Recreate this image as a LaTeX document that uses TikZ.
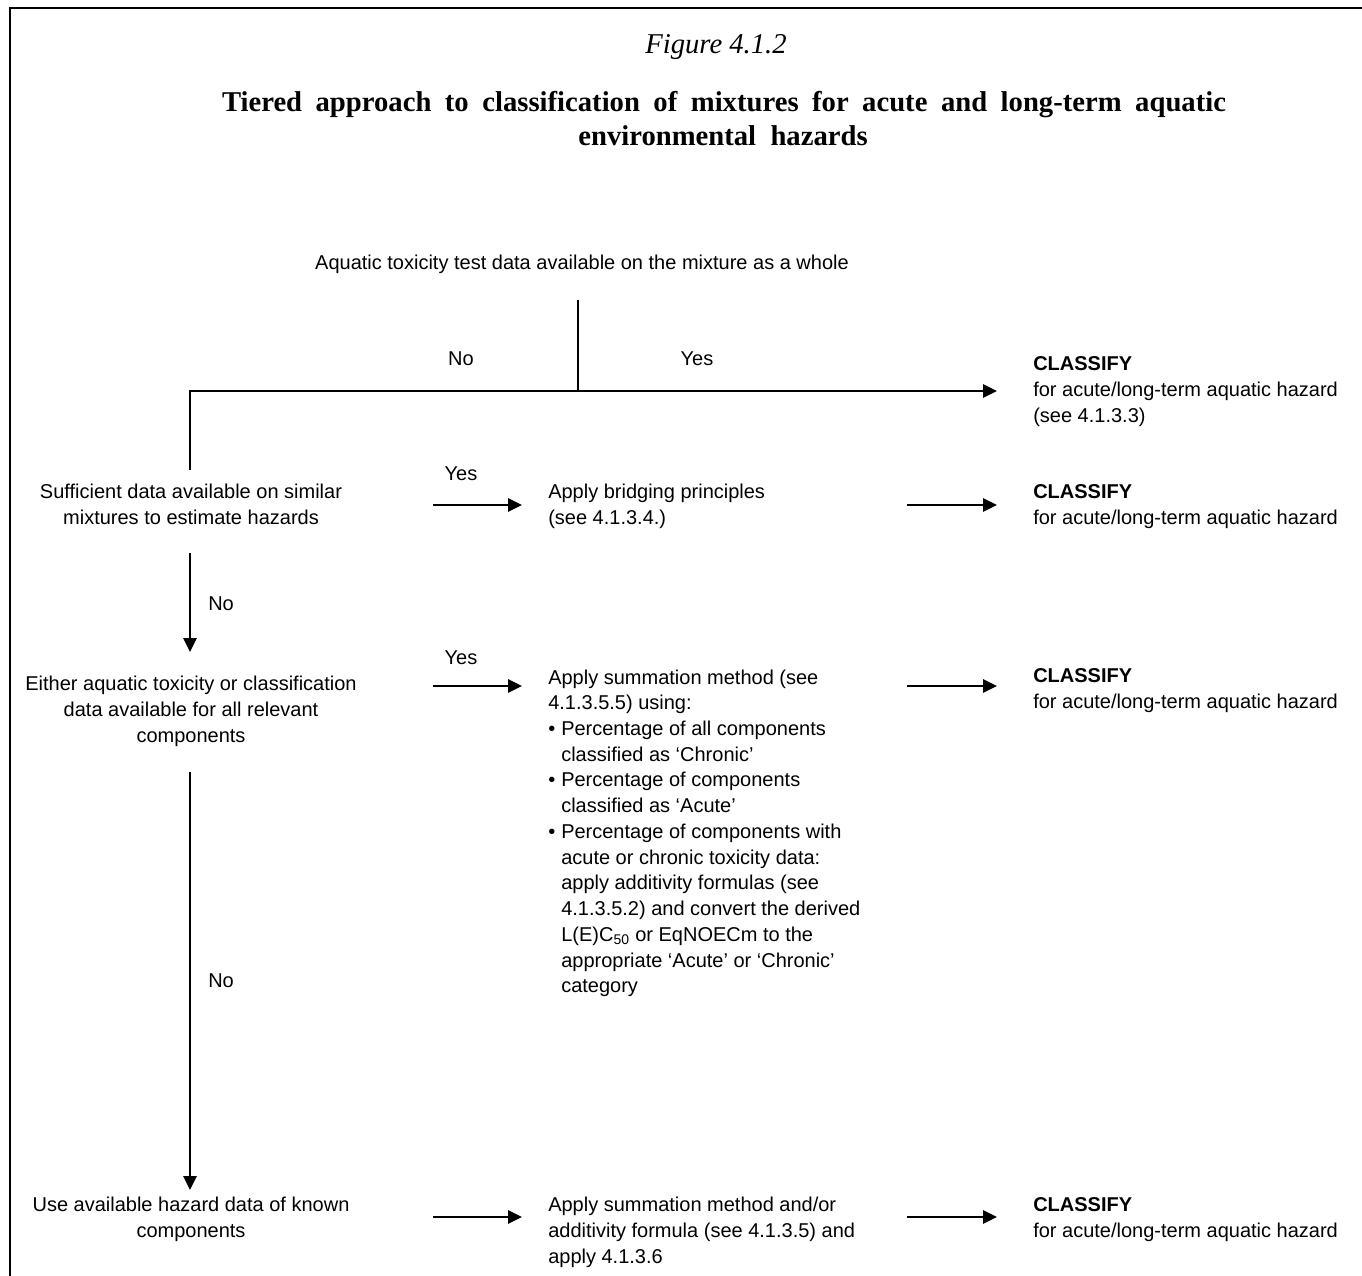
\documentclass[tikz,border=0pt]{standalone}
\usepackage{fontspec}
\setmainfont{Liberation Serif}
\setsansfont{Liberation Sans}
\usetikzlibrary{arrows.meta}
\begin{document}
\begin{tikzpicture}[x=0.75pt,y=-0.75pt,
  txt/.style={font=\sffamily\fontsize{15}{19.3}\selectfont, inner sep=0pt},
  ctxt/.style={txt, align=center, anchor=base},
  ltxt/.style={txt, align=left, anchor=base west},
  ttl/.style={font=\fontsize{21.5}{26}\selectfont, inner sep=0pt, anchor=base},
  ln/.style={line width=1.3pt},
  arr/.style={line width=1.3pt, -{Triangle[length=10.5pt,width=10pt]}}
]
\useasboundingbox (0,0) rectangle (1362,1276);
\fill[white] (0,0) rectangle (1362,1276);
% frame
\coordinate (fbl) at (10,1276);
\coordinate (ftl) at (10,8);
\coordinate (ftr) at (1362,8);
\draw[line width=1.5pt] (fbl) -- (ftl) -- (ftr);

% titles
\node[ttl] (fig) at (716,54) {\itshape Figure 4.1.2};
\node[ttl] (t1) at (724,112) {\makebox[753pt][s]{\bfseries Tiered approach to classification of mixtures for acute and long-term aquatic}};
\node[ttl] (t2) at (723,146) {\bfseries environmental\ \ hazards};

% columns and rows
\coordinate (cA) at (433,0);
\coordinate (cB) at (522,0);
\coordinate (cC) at (907,0);
\coordinate (cD) at (997,0);
\coordinate (r1) at (0,505);
\coordinate (r2) at (0,686);
\coordinate (r3) at (0,1217);

% nodes (base anchor = baseline of the last line)
\node[ctxt] (q0) at (582,270) {Aquatic toxicity test data available on the mixture as a whole};
\node[ctxt] (no0) at (461,366) {No};
\node[ctxt] (yes0) at (697,366) {Yes};
\node[ltxt] (cl0) at (1033,422.4) {\textbf{CLASSIFY}\\for acute/long-term aquatic hazard\\(see 4.1.3.3)};

\node[ctxt] (q1) at (191,524.7) {Sufficient data available on similar\\mixtures to estimate hazards};
\node[ctxt] (yes1) at (461,480) {Yes};
\node[ltxt] (m1) at (548,524.7) {Apply bridging principles\\(see 4.1.3.4.)};
\node[ltxt] (cl1) at (1033,524.7) {\textbf{CLASSIFY}\\for acute/long-term aquatic hazard};

\node[ltxt] (no1) at (208,610) {No};

\node[ctxt] (q2) at (191,742.4) {Either aquatic toxicity or classification\\data available for all relevant\\components};
\node[ctxt] (yes2) at (461,664) {Yes};
\node[ltxt] (m2) at (548,992.8) {Apply summation method (see\\
4.1.3.5.5) using:\\
\makebox[9.75pt][l]{\textbullet}Percentage of all components\\
\hspace*{9.75pt}classified as ‘Chronic’\\
\makebox[9.75pt][l]{\textbullet}Percentage of components\\
\hspace*{9.75pt}classified as ‘Acute’\\
\makebox[9.75pt][l]{\textbullet}Percentage of components with\\
\hspace*{9.75pt}acute or chronic toxicity data:\\
\hspace*{9.75pt}apply additivity formulas (see\\
\hspace*{9.75pt}4.1.3.5.2) and convert the derived\\
\hspace*{9.75pt}L(E)C\textsubscript{50} or EqNOECm to the\\
\hspace*{9.75pt}appropriate ‘Acute’ or ‘Chronic’\\
\hspace*{9.75pt}category};
\node[ltxt] (cl2) at (1033,708.7) {\textbf{CLASSIFY}\\for acute/long-term aquatic hazard};

\node[ltxt] (no2) at (208,987) {No};

\node[ctxt] (q3) at (191,1237.7) {Use available hazard data of known\\components};
\node[ltxt] (m3) at (548,1263.4) {Apply summation method and/or\\additivity formula (see 4.1.3.5) and\\apply 4.1.3.6};
\node[ltxt] (cl3) at (1033,1237.7) {\textbf{CLASSIFY}\\for acute/long-term aquatic hazard};

% connectors
\coordinate (top) at (578,300);
\coordinate (junc) at (578,391);
\coordinate (corner) at (190,391);
\coordinate (lv) at (190,470);
\coordinate (v1a) at (190,553);
\coordinate (v1b) at (190,652);
\coordinate (v2a) at (190,772);
\coordinate (v2b) at (190,1190);

\draw[ln] (top) -- (junc);
\draw[ln] (lv) -- (corner) -- (junc);
\draw[arr] (junc) -- (cD |- junc);

\draw[arr] (cA |- r1) -- (cB |- r1);
\draw[arr] (cC |- r1) -- (cD |- r1);
\draw[arr] (v1a) -- (v1b);
\draw[arr] (cA |- r2) -- (cB |- r2);
\draw[arr] (cC |- r2) -- (cD |- r2);
\draw[arr] (v2a) -- (v2b);
\draw[arr] (cA |- r3) -- (cB |- r3);
\draw[arr] (cC |- r3) -- (cD |- r3);
\end{tikzpicture}
\end{document}
